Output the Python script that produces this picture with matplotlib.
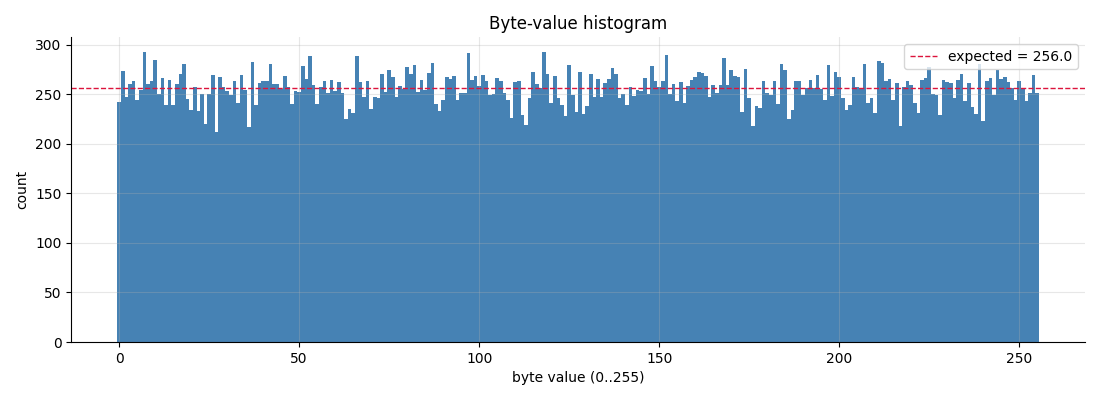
import numpy as np
import matplotlib
matplotlib.use("Agg")
import matplotlib.pyplot as plt

# counts per byte value
byte_values = np.arange(256)
counts = [
    242, 274, 247, 260, 263, 244, 254, 293, 260, 263, 285, 250, 266, 239, 264, 239,
    260, 271, 281, 245, 234, 257, 233, 250, 220, 250, 269, 212, 267, 257, 253, 249,
    263, 241, 270, 254, 217, 283, 239, 261, 263, 263, 281, 260, 260, 255, 268, 257,
    240, 253, 252, 279, 265, 289, 259, 240, 257, 263, 251, 264, 253, 262, 251, 225,
    235, 231, 289, 262, 247, 263, 235, 247, 246, 271, 252, 275, 267, 247, 258, 255,
    278, 271, 280, 252, 264, 254, 272, 282, 240, 233, 244, 267, 265, 268, 244, 251,
    251, 292, 264, 268, 258, 269, 263, 249, 250, 266, 263, 251, 244, 226, 262, 263,
    229, 219, 246, 273, 260, 256, 293, 271, 241, 268, 246, 239, 228, 280, 249, 232,
    273, 230, 238, 271, 247, 265, 247, 261, 265, 277, 271, 246, 250, 239, 257, 248,
    254, 253, 266, 250, 279, 263, 257, 263, 290, 250, 260, 243, 262, 241, 258, 264,
    267, 273, 272, 268, 247, 259, 251, 259, 287, 259, 275, 268, 267, 232, 276, 246,
    218, 238, 236, 263, 251, 249, 263, 240, 281, 275, 225, 234, 263, 263, 249, 256,
    264, 256, 269, 255, 244, 280, 248, 273, 267, 246, 234, 239, 267, 257, 256, 281,
    241, 246, 231, 284, 282, 263, 265, 244, 261, 218, 257, 263, 259, 241, 231, 264,
    266, 278, 250, 249, 229, 264, 262, 261, 246, 264, 271, 243, 261, 237, 230, 281,
    223, 263, 266, 249, 275, 265, 267, 262, 256, 244, 263, 256, 243, 251, 270, 251,
]
expected = 256.0

fig, ax = plt.subplots(figsize=(11, 4), dpi=100)
ax.bar(byte_values, counts, width=1.0, color="steelblue")
ax.axhline(expected, color="crimson", linestyle="--", linewidth=1,
           label=f"expected = {expected}")

ax.set_title("Byte-value histogram")
ax.set_xlabel("byte value (0..255)")
ax.set_ylabel("count")
ax.grid(alpha=0.3)
ax.legend(loc="upper right")
ax.spines["top"].set_visible(False)
ax.spines["right"].set_visible(False)

plt.subplots_adjust(left=0.0648, right=0.9865, top=0.907, bottom=0.145)
plt.savefig("out.png")
